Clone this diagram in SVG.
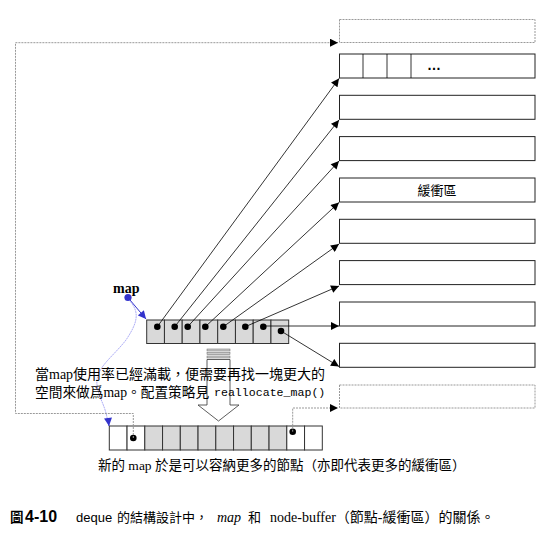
<svg xmlns="http://www.w3.org/2000/svg" width="545" height="534" viewBox="0 0 545 534">
<style>
.box{fill:#fff;stroke:#222;stroke-width:1}
.dbox{fill:#fff;stroke:#999;stroke-width:1;stroke-dasharray:2,1}
.cell{fill:#d9d9d9;stroke:#333;stroke-width:1}
.wcell{fill:#fff;stroke:#333;stroke-width:1}
.dot{fill:#000}
.ln{stroke:#000;stroke-width:0.8;fill:none}
.dl{stroke:#999;stroke-width:1;fill:none;stroke-dasharray:2,1}
.serif{font-family:"Liberation Serif","Noto Sans CJK TC",serif;fill:#000}
.sans{font-family:"Liberation Sans","Noto Sans CJK TC",sans-serif;fill:#000}
.mono{font-family:"Liberation Mono",monospace;fill:#000}
</style>
<defs>
<marker id="ah" viewBox="0 0 10 10" refX="10" refY="5" markerWidth="9" markerHeight="8" markerUnits="userSpaceOnUse" orient="auto"><path d="M0,0L10,5L0,10z" fill="#000"/></marker>
<marker id="bh" viewBox="0 0 10 10" refX="10" refY="5" markerWidth="9" markerHeight="8" markerUnits="userSpaceOnUse" orient="auto"><path d="M0,0L10,5L0,10z" fill="#3333cc"/></marker>
</defs>

<g id="buffers">
<g id="buf-new-top"><rect class="dbox" x="339.5" y="19.5" width="195.5" height="23"/></g>
<g id="buf1"><rect class="box" x="339.5" y="54" width="195.5" height="24"/><path class="ln" d="M363,54V78M387,54V78M411,54V78" stroke-width="1"/><text class="sans" x="434" y="70" font-size="14" font-weight="bold" text-anchor="middle">…</text></g>
<g id="buf2"><rect class="box" x="339.5" y="95.3" width="195.5" height="24"/></g>
<g id="buf3"><rect class="box" x="339.5" y="136.6" width="195.5" height="24"/></g>
<g id="buf4"><rect class="box" x="339.5" y="178" width="195.5" height="24"/><text class="sans" x="437" y="195" font-size="13" text-anchor="middle">緩衝區</text></g>
<g id="buf5"><rect class="box" x="339.5" y="219.3" width="195.5" height="24"/></g>
<g id="buf6"><rect class="box" x="339.5" y="260.6" width="195.5" height="24"/></g>
<g id="buf7"><rect class="box" x="339.5" y="302" width="195.5" height="24"/></g>
<g id="buf8"><rect class="box" x="339.5" y="343.3" width="195.5" height="24"/></g>
<g id="buf-new-bottom"><rect class="dbox" x="339.5" y="385" width="195.5" height="23"/></g>
</g>

<g id="map-old">
<rect class="cell" x="146.7" y="320" width="17.75" height="23.5"/>
<rect class="cell" x="164.45" y="320" width="17.75" height="23.5"/>
<rect class="cell" x="182.2" y="320" width="17.75" height="23.5"/>
<rect class="cell" x="199.95" y="320" width="17.75" height="23.5"/>
<rect class="cell" x="217.7" y="320" width="17.75" height="23.5"/>
<rect class="cell" x="235.45" y="320" width="17.75" height="23.5"/>
<rect class="cell" x="253.2" y="320" width="17.75" height="23.5"/>
<rect class="cell" x="270.95" y="320" width="17.75" height="23.5"/>
<circle class="dot" cx="157.3" cy="326.7" r="3.3"/>
<circle class="dot" cx="174.7" cy="326.7" r="3.3"/>
<circle class="dot" cx="187.7" cy="326.7" r="3.3"/>
<circle class="dot" cx="205.3" cy="326.7" r="3.3"/>
<circle class="dot" cx="223.3" cy="326.7" r="3.3"/>
<circle class="dot" cx="245.3" cy="326.7" r="3.3"/>
<circle class="dot" cx="263.3" cy="326.7" r="3.3"/>
<circle class="dot" cx="281" cy="331" r="3.3"/>
</g>

<g id="map-new">
<rect class="wcell" x="109.3" y="426" width="17.75" height="24"/>
<rect class="wcell" x="127.05" y="426" width="17.75" height="24"/>
<rect class="cell" x="144.8" y="426" width="17.75" height="24"/>
<rect class="cell" x="162.55" y="426" width="17.75" height="24"/>
<rect class="cell" x="180.3" y="426" width="17.75" height="24"/>
<rect class="cell" x="198.05" y="426" width="17.75" height="24"/>
<rect class="cell" x="215.8" y="426" width="17.75" height="24"/>
<rect class="cell" x="233.55" y="426" width="17.75" height="24"/>
<rect class="cell" x="251.3" y="426" width="17.75" height="24"/>
<rect class="cell" x="269.05" y="426" width="17.75" height="24"/>
<rect class="wcell" x="286.8" y="426" width="17.75" height="24"/>
<rect class="wcell" x="304.55" y="426" width="17.75" height="24"/>
<circle class="dot" cx="133.3" cy="438" r="3.3"/>
<circle class="dot" cx="292.7" cy="431.7" r="3.3"/>
</g>

<g id="realloc-arrow">
<rect x="207" y="349" width="23" height="2" fill="#ccc" stroke="#666" stroke-width="0.5"/>
<rect x="207" y="352.5" width="23" height="2" fill="#ccc" stroke="#666" stroke-width="0.5"/>
<rect x="207" y="356" width="23" height="2" fill="#ccc" stroke="#666" stroke-width="0.5"/>
<path d="M207,359.5H230V405H239L218.5,421L198,405H207Z" fill="#fff" stroke="#333" stroke-width="0.8"/>
</g>

<g id="map-pointer">
<text class="serif" x="113" y="293" font-size="14" font-weight="bold">map</text>
<circle cx="128" cy="297.5" r="3.6" fill="#3333cc"/>
</g>

<g id="connectors">
<line class="ln" x1="157.3" y1="326.7" x2="339" y2="78.5" marker-end="url(#ah)"/>
<line class="ln" x1="174.7" y1="326.7" x2="339" y2="120" marker-end="url(#ah)"/>
<line class="ln" x1="187.7" y1="326.7" x2="339" y2="161" marker-end="url(#ah)"/>
<line class="ln" x1="205.3" y1="326.7" x2="339" y2="202.5" marker-end="url(#ah)"/>
<line class="ln" x1="223.3" y1="326.7" x2="339" y2="244" marker-end="url(#ah)"/>
<line class="ln" x1="245.3" y1="326.7" x2="339" y2="286" marker-end="url(#ah)"/>
<line class="ln" x1="263.3" y1="326" x2="339" y2="326" marker-end="url(#ah)"/>
<line class="ln" x1="281" y1="331" x2="339" y2="366.5" marker-end="url(#ah)"/>
<line x1="130" y1="300" x2="146" y2="319" stroke="#3333cc" stroke-width="1" marker-end="url(#bh)"/>
<path d="M129,300C140,312 138,322 126,340C112,358 95,368 97,385C99,400 106,405 108,424" fill="none" stroke="#7777ee" stroke-width="0.6" stroke-dasharray="2,0.6"/>
<path d="M108,418L109,426" stroke="#3333cc" stroke-width="1" marker-end="url(#bh)"/>
<path class="dl" d="M133.3,438V413.5H15.5V42.7H338" marker-end="url(#ah)"/>
<path class="dl" d="M292.7,431.7V408H338" marker-end="url(#ah)"/>
</g>

<g id="labels">
<text class="serif" x="35" y="379" font-size="14">當map使用率已經滿載，便需要再找一塊更大的</text>
<text class="serif" x="35" y="397" font-size="13.7">空間來做爲map。配置策略見</text>
<text class="mono" x="214" y="396" font-size="11.6">reallocate_map()</text>
<text class="serif" x="98" y="470" font-size="13.5">新的 map 於是可以容納更多的節點（亦即代表更多的緩衝區）</text>
</g>

<g id="caption">
<text class="sans" x="10" y="522" font-size="13.5" font-weight="bold">圖</text>
<text class="sans" x="25" y="522" font-size="16" font-weight="bold">4-10</text>
<text class="sans" x="76" y="522" font-size="13">deque</text>
<text class="serif" x="117" y="522" font-size="13">的結構設計中，</text>
<text class="serif" x="217" y="522" font-size="14" font-style="italic">map</text>
<text class="serif" x="248" y="522" font-size="13">和</text>
<text class="serif" x="270" y="522" font-size="14">node-buffer（節點-緩衝區）的關係。</text>
</g>
</svg>
